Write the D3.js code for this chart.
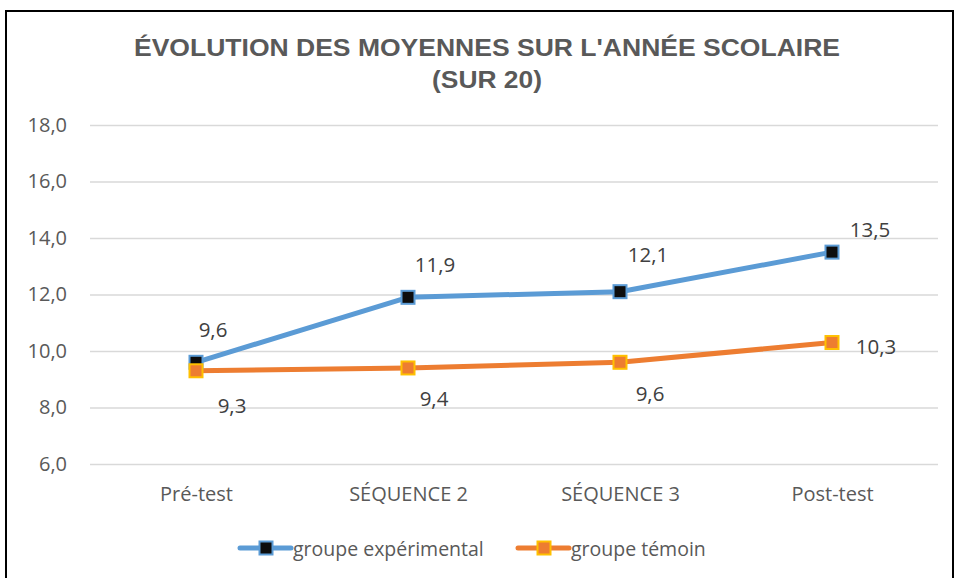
<!DOCTYPE html>
<html>
<head>
<meta charset="utf-8">
<script src="https://cdn.jsdelivr.net/npm/d3@7"></script>
<style>
  body { margin: 0; background: #fff; }
  svg { display: block; }
</style>
</head>
<body>
<div id="chart"></div>
<script>
// data
const categories = ['Pré-test', 'SÉQUENCE 2', 'SÉQUENCE 3', 'Post-test'];
const experimental = [9.6, 11.9, 12.1, 13.5];
const temoin = [9.3, 9.4, 9.6, 10.3];
const yTicks = [6, 8, 10, 12, 14, 16, 18];
const seriesNames = ['groupe expérimental', 'groupe témoin'];

// label offsets (layout only)
const expOffsets = [[17, -33], [27, -33], [28, -38], [38, -23]];
const temOffsets = [[36, 34], [26, 30], [30, 31], [44, 3]];

const w = 956;
const h = 578;
const margin = { left: 90, right: 18, top: 125, bottom: 114 };
const labelFont = '"Open Sans", Carlito, sans-serif';

const svg = d3
  .select('#chart')
  .append('svg')
  .attr('width', w)
  .attr('height', h);

// frame
svg
  .append('rect')
  .attr('x', 6)
  .attr('y', 11)
  .attr('width', 947)
  .attr('height', 600)
  .attr('fill', '#fff')
  .attr('stroke', '#000')
  .attr('stroke-width', 2);

const xScale = d3
  .scalePoint()
  .domain(categories)
  .range([margin.left, w - margin.right])
  .padding(0.5);

const yScale = d3
  .scaleLinear()
  .domain([6, 18])
  .range([464, 125]);

// grid + y labels
const yAxis = d3
  .axisLeft(yScale)
  .tickValues(yTicks)
  .tickSize(-(w - margin.right - margin.left))
  .tickPadding(23)
  .tickFormat(d => d3.format('.1f')(d).replace('.', ','));

const gy = svg
  .append('g')
  .attr('transform', `translate(${margin.left}, 0)`)
  .call(yAxis);
gy.select('.domain').remove();
gy.selectAll('line').attr('stroke', '#d9d9d9').attr('stroke-width', 1.3);
gy.selectAll('text')
  .attr('fill', '#595959')
  .attr('font-family', labelFont)
  .attr('font-size', '20px');

// x labels
const xAxis = d3.axisBottom(xScale).tickSize(0).tickPadding(23);
const gx = svg
  .append('g')
  .attr('transform', `translate(0, ${yScale(6)})`)
  .call(xAxis);
gx.select('.domain').remove();
gx.selectAll('text')
  .attr('fill', '#595959')
  .attr('font-family', labelFont)
  .attr('font-size', '20px');

// title
const title = svg
  .append('text')
  .attr('text-anchor', 'middle')
  .attr('fill', '#595959')
  .attr('font-family', '"Liberation Sans", Arial, sans-serif')
  .attr('font-weight', 'bold')
  .attr('font-size', '24.5px');
title
  .append('tspan')
  .attr('x', 487)
  .attr('y', 56)
  .attr('textLength', 706)
  .attr('lengthAdjust', 'spacingAndGlyphs')
  .text("ÉVOLUTION DES MOYENNES SUR L'ANNÉE SCOLAIRE");
title
  .append('tspan')
  .attr('x', 487)
  .attr('y', 88)
  .attr('textLength', 110)
  .attr('lengthAdjust', 'spacingAndGlyphs')
  .text('(SUR 20)');

const series = [
  { name: seriesNames[0], values: experimental, line: '#5b9bd5', fill: '#0d0d0d', stroke: '#5b9bd5', offsets: expOffsets },
  { name: seriesNames[1], values: temoin, line: '#ed7d31', fill: '#ed7d31', stroke: '#ffc000', offsets: temOffsets },
];

const line = d3
  .line()
  .x((d, i) => xScale(categories[i]))
  .y(d => yScale(d));

series.forEach(s => {
  svg
    .append('path')
    .datum(s.values)
    .attr('d', line)
    .attr('fill', 'none')
    .attr('stroke', s.line)
    .attr('stroke-width', 5)
    .attr('stroke-linejoin', 'round')
    .attr('stroke-linecap', 'round');
});

series.forEach(s => {
  svg
    .selectAll(null)
    .data(s.values)
    .enter()
    .append('rect')
    .attr('x', (d, i) => xScale(categories[i]) - 6.5)
    .attr('y', d => yScale(d) - 6.5)
    .attr('width', 13)
    .attr('height', 13)
    .attr('fill', s.fill)
    .attr('stroke', s.stroke)
    .attr('stroke-width', 2);
});

series.forEach(s => {
  svg
    .selectAll(null)
    .data(s.values)
    .enter()
    .append('text')
    .text(d => d3.format('.1f')(d).replace('.', ','))
    .attr('text-anchor', 'middle')
    .attr('dominant-baseline', 'central')
    .attr('x', (d, i) => xScale(categories[i]) + s.offsets[i][0])
    .attr('y', (d, i) => yScale(d) + s.offsets[i][1])
    .attr('font-family', labelFont)
    .attr('font-size', '20.5px')
    .attr('fill', '#404040');
});

// legend
const legendX = [240, 518];
series.forEach((s, i) => {
  const g = svg.append('g').attr('transform', `translate(${legendX[i]}, 548)`);
  g.append('line')
    .attr('x1', 0)
    .attr('x2', 51)
    .attr('stroke', s.line)
    .attr('stroke-width', 5)
    .attr('stroke-linecap', 'round');
  g.append('rect')
    .attr('x', 19.5)
    .attr('y', -6.5)
    .attr('width', 13)
    .attr('height', 13)
    .attr('fill', s.fill)
    .attr('stroke', s.stroke)
    .attr('stroke-width', 2);
  g.append('text')
    .attr('x', 53)
    .attr('dominant-baseline', 'central')
    .attr('font-family', labelFont)
    .attr('font-size', '19.5px')
    .attr('fill', '#595959')
    .text(s.name);
});
</script>
</body>
</html>
